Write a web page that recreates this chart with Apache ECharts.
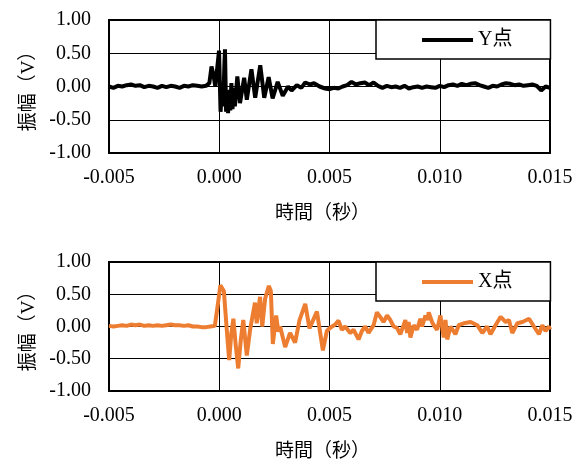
<!DOCTYPE html>
<html>
<head>
<meta charset="utf-8">
<script src="https://cdn.jsdelivr.net/npm/echarts@6/dist/echarts.min.js"></script>
<style>
html,body{margin:0;padding:0;background:#fff;}
#c{width:582px;height:463px;}
</style>
</head>
<body>
<div id="c"></div>
<script>
// ---- data ----
const xTicks = [-0.005, 0.000, 0.005, 0.010, 0.015];
const yTicks = [-1.00, -0.50, 0.00, 0.50, 1.00];

const seriesNameY = 'Y点';
const seriesNameX = 'X点';

const yTime = [
-0.0050,-0.0048,-0.0046,-0.0044,-0.0042,-0.0040,-0.0038,-0.0036,-0.0034,-0.0032,
-0.0030,-0.0028,-0.0026,-0.0024,-0.0022,-0.0020,-0.0018,-0.0016,-0.0014,-0.0012,
-0.0010,-0.0008,-0.0006,-0.00045,-0.00035,-0.00025,-0.00018,-0.00001,0.00006,0.00012,
0.00018,0.00023,0.00026,0.00031,0.00036,0.00040,0.00045,0.00050,0.00055,0.00060,
0.00066,0.00071,0.00082,
0.00094,0.00113,0.00125,0.00146,0.00163,0.00186,0.00204,0.00224,0.00242,0.00265,
0.00288,0.00312,0.00328,0.00352,0.00372,0.00390,0.00412,0.00430,0.00455,0.00480,
0.0050,0.0052,0.0054,0.0056,0.0058,0.0060,0.0062,0.0064,0.0066,0.0068,
0.0070,0.0072,0.0074,0.0076,0.0078,0.0080,0.0082,0.0084,0.0086,0.0088,
0.0090,0.0092,0.0094,0.0096,0.0098,0.0100,0.0102,0.0104,0.0106,0.0108,
0.0110,0.0112,0.0114,0.0116,0.0118,0.0120,0.0122,0.0124,0.0126,0.0128,
0.0130,0.0132,0.0134,0.0136,0.0138,0.0140,0.0142,0.0144,0.0146,0.0148,0.0150
];
const yAmp = [
0.00,-0.02,0.01,0.00,0.02,0.03,0.01,0.02,-0.01,0.01,
0.00,-0.02,0.01,-0.01,0.01,0.00,-0.02,0.01,0.00,0.02,
0.01,0.00,0.01,0.05,0.30,0.15,0.00,0.54,-0.38,-0.05,
-0.30,0.30,0.56,-0.38,-0.10,-0.40,-0.05,-0.36,0.05,-0.34,
-0.02,-0.30,0.15,
-0.25,0.13,-0.20,0.26,-0.17,0.32,-0.17,0.14,-0.18,0.07,
-0.14,0.00,-0.06,0.02,-0.02,0.06,0.03,0.05,0.00,-0.03,
-0.04,-0.02,-0.03,0.00,0.02,0.07,0.03,0.05,0.06,0.02,
0.06,0.01,-0.02,0.01,-0.01,0.00,-0.02,0.01,-0.03,-0.01,
0.00,-0.02,0.00,-0.01,-0.02,0.01,-0.01,0.02,0.03,0.01,
0.04,0.02,0.04,0.05,0.02,0.00,-0.02,0.01,0.00,0.03,
0.05,0.04,0.02,0.03,0.01,0.02,0.03,0.01,-0.06,0.00,-0.02
];

const xTime = [
-0.0050,-0.0048,-0.0046,-0.0044,-0.0042,-0.0040,-0.0038,-0.0036,-0.0034,-0.0032,
-0.0030,-0.0028,-0.0026,-0.0024,-0.0022,-0.0020,-0.0018,-0.0016,-0.0014,-0.0012,
-0.0010,-0.0008,-0.0006,-0.0004,-0.0002,-0.00008,0.00005,0.00013,0.00021,0.00033,
0.00045,0.00055,0.00064,0.00075,0.00086,0.00098,0.00109,0.00125,0.00140,0.00162,
0.00170,0.00185,0.00195,0.00208,0.00225,0.00234,0.00243,0.00258,0.00268,0.00276,
0.00284,0.00299,0.00321,0.00344,0.00364,0.00390,0.00409,0.00443,0.00470,0.00488,
0.00503,0.00525,0.00541,0.00556,0.00571,0.00594,0.00609,0.00632,0.00647,0.00662,
0.00677,0.00700,0.00715,0.00730,0.00745,0.00761,0.00776,0.00791,0.00806,0.00821,
0.00836,0.00844,0.00852,0.00859,0.00867,0.00882,0.00897,0.00912,0.00920,0.00935,
0.00943,0.00950,0.00965,0.00973,0.00988,0.01003,0.01018,0.01026,0.01034,0.01049,
0.01071,0.01086,0.01109,0.01140,0.01170,0.01193,0.01215,0.01230,0.01253,0.01276,
0.01299,0.01314,0.01329,0.01352,0.01375,0.01405,0.01427,0.01450,0.01465,0.01480,
0.01495,0.01500
];
const xAmp = [
0.01,0.00,0.01,0.02,0.01,0.03,0.02,0.03,0.01,0.02,
0.01,0.02,0.01,0.02,0.03,0.02,0.02,0.01,0.02,0.00,
0.00,-0.01,-0.01,0.00,0.01,0.30,0.64,0.65,0.55,0.00,
-0.52,-0.10,0.12,-0.30,-0.65,-0.20,0.10,-0.45,-0.05,0.37,
0.05,0.46,0.00,0.43,0.63,0.55,-0.27,0.17,-0.08,0.00,
-0.03,-0.32,-0.10,-0.25,0.10,0.35,-0.03,0.23,-0.37,-0.07,
-0.02,0.03,0.09,-0.05,0.00,-0.10,-0.05,-0.20,-0.07,0.00,
-0.10,0.02,0.22,0.15,0.07,0.17,0.10,0.00,-0.02,-0.12,
0.02,0.10,-0.10,0.07,-0.17,0.02,-0.05,0.12,0.00,0.17,
0.10,0.22,0.07,0.02,-0.05,0.17,-0.17,0.10,-0.20,0.00,
-0.12,0.02,0.05,0.07,0.02,-0.10,0.00,-0.12,0.02,0.15,
0.07,0.10,-0.10,0.05,0.07,0.12,0.00,-0.12,0.02,-0.07,
0.00,-0.05
];

// ---- chart ----
const FONT = "'Liberation Serif', 'Noto Sans CJK JP', serif";
const pairs = (t, v) => t.map((x, i) => [x, v[i]]);

function xAxisFor(gi) {
  return {
    type: 'value', gridIndex: gi,
    min: xTicks[0], max: xTicks[xTicks.length - 1], interval: 0.005,
    name: '時間（秒）', nameLocation: 'middle', nameGap: 52,
    nameTextStyle: { fontFamily: FONT, fontSize: 19, color: '#000', padding: [0, 14, 0, 0] },
    axisLine: { show: false }, axisTick: { show: false },
    axisLabel: { fontFamily: FONT, fontSize: 20, color: '#000', margin: 15,
      formatter: v => v.toFixed(3) },
    splitLine: { show: true, lineStyle: { color: '#000', width: 1 } }
  };
}
function yAxisFor(gi) {
  return {
    type: 'value', gridIndex: gi,
    min: yTicks[0], max: yTicks[yTicks.length - 1], interval: 0.5,
    name: '振幅（V）', nameLocation: 'middle', nameGap: 70, nameRotate: 90,
    nameTextStyle: { fontFamily: FONT, fontSize: 19, color: '#000' },
    axisLine: { show: false }, axisTick: { show: false },
    axisLabel: { fontFamily: FONT, fontSize: 20, color: '#000', margin: 18,
      formatter: v => v.toFixed(2) },
    splitLine: { show: true, lineStyle: { color: '#000', width: 1 } }
  };
}
function legendFor(top, name) {
  return {
    data: [name], left: 376, top: top,
    backgroundColor: '#fff', borderColor: '#000', borderWidth: 1.5,
    padding: [10, 38, 9, 46],
    icon: 'rect', itemWidth: 51, itemHeight: 4, itemGap: 5,
    textStyle: { fontFamily: FONT, fontSize: 20, color: '#000' }
  };
}

const chart = echarts.init(document.getElementById('c'), null, { renderer: 'canvas' });
chart.setOption({
  animation: false,
  backgroundColor: '#fff',
  grid: [
    { left: 109, right: 32, top: 20, height: 133, show: true, borderColor: '#000', borderWidth: 2, backgroundColor: 'transparent' },
    { left: 109, right: 32, top: 262, height: 135, show: true, borderColor: '#000', borderWidth: 2, backgroundColor: 'transparent' }
  ],
  xAxis: [xAxisFor(0), xAxisFor(1)],
  yAxis: [yAxisFor(0), yAxisFor(1)],
  legend: [legendFor(20, seriesNameY), legendFor(262, seriesNameX)],
  series: [
    { name: seriesNameY, type: 'line', xAxisIndex: 0, yAxisIndex: 0, data: pairs(yTime, yAmp),
      showSymbol: false, symbol: 'none', color: '#000', lineStyle: { color: '#000', width: 4 } },
    { name: seriesNameX, type: 'line', xAxisIndex: 1, yAxisIndex: 1, data: pairs(xTime, xAmp),
      showSymbol: false, symbol: 'none', color: '#ED7D31', lineStyle: { color: '#ED7D31', width: 4 } }
  ]
});
</script>
</body>
</html>
